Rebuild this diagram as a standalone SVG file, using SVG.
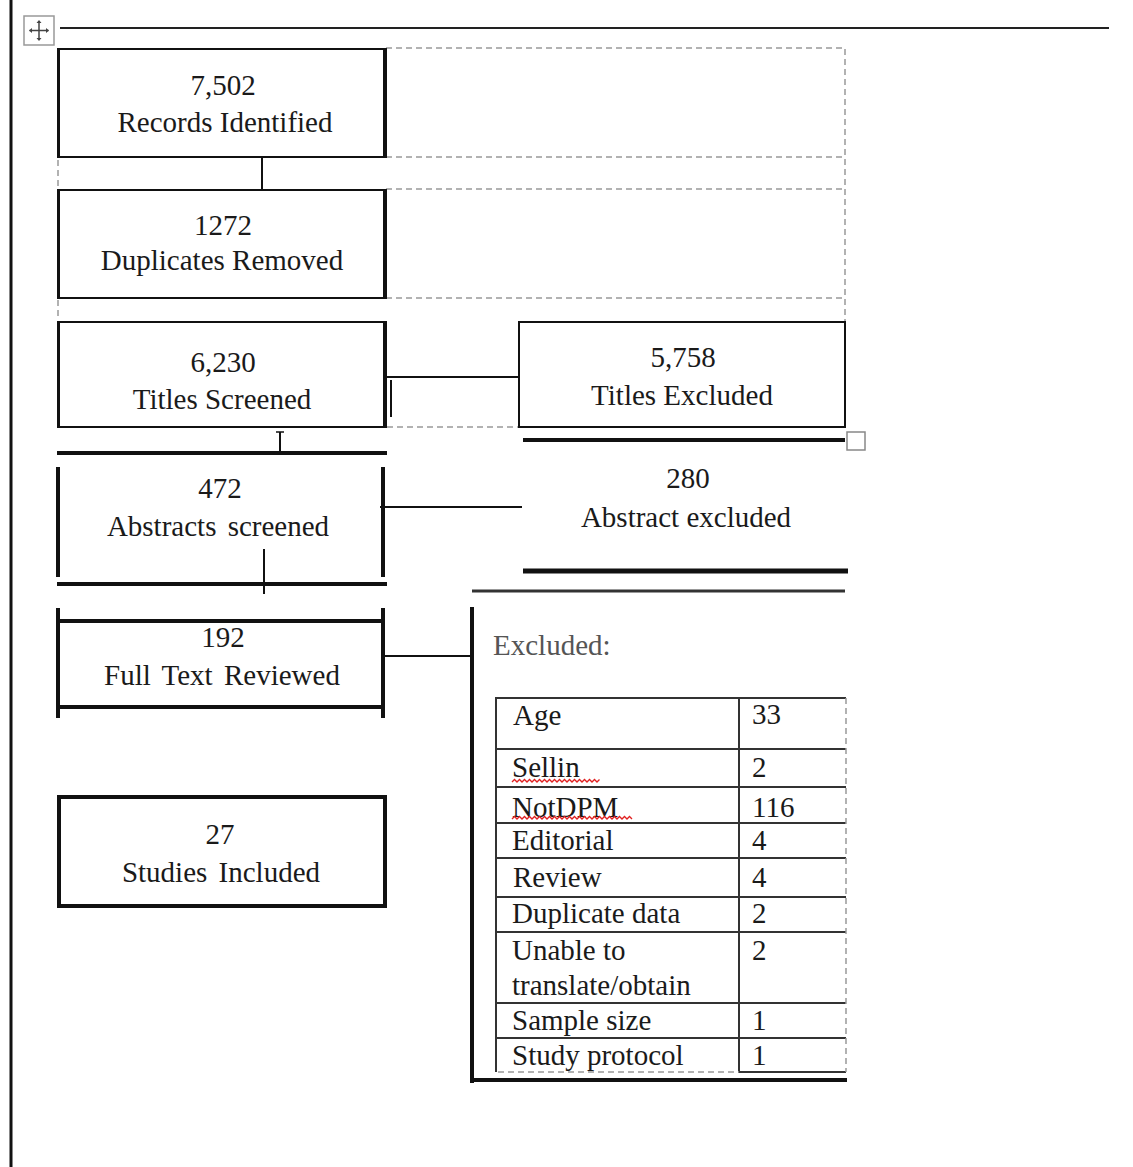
<svg xmlns="http://www.w3.org/2000/svg" width="1133" height="1167" viewBox="0 0 1133 1167">
<style>
text{font-family:"Liberation Serif","Times New Roman",serif;font-size:29px;fill:#1a1a1a}
.c{text-anchor:middle}
.g{fill:#555}
.ln{stroke:#111;fill:none}
.dash{stroke:#999;stroke-width:1.5;stroke-dasharray:6 4;fill:none}
.wavy{stroke:#e02020;stroke-width:1.3;fill:none}
</style>
<rect width="1133" height="1167" fill="#fff"/>
<!-- page frame -->
<line x1="11" y1="0" x2="11" y2="1167" stroke="#111" stroke-width="3"/>
<line x1="60" y1="28" x2="1109" y2="28" stroke="#222" stroke-width="2"/>
<g id="move-handle">
<rect x="24" y="16" width="30" height="29" fill="#fff" stroke="#999" stroke-width="1.5"/>
<path d="M39 21v19M29.5 30.5h19" stroke="#444" stroke-width="1.5"/>
<path d="M39 20l-2.5 3h5zM39 41l-2.5-3h5zM29 30.5l3-2.5v5zM49 30.5l-3-2.5v5z" fill="#444"/>
</g>
<!-- dashed table grid -->
<g id="grid">
<path class="dash" d="M386 48H845V322M386 157H845M386 189H845M386 298H845M387 427H518M58 160V189M58 300V320"/>
</g>
<g id="connectors" class="ln">
<line x1="262" y1="157" x2="262" y2="189" stroke-width="2"/>
<line x1="386" y1="377" x2="519" y2="377" stroke-width="2"/>
<line x1="391" y1="380" x2="391" y2="417" stroke-width="2"/>
<line x1="280" y1="432" x2="280" y2="452" stroke-width="2"/>
<line x1="276" y1="432" x2="284" y2="432" stroke-width="1.5"/>
<line x1="380" y1="507" x2="522" y2="507" stroke-width="2"/>
<line x1="264" y1="549" x2="264" y2="594" stroke-width="2"/>
<line x1="383" y1="656" x2="472" y2="656" stroke-width="2"/>
</g>
<g id="n-records">
<rect x="58" y="49" width="327" height="108" fill="none" stroke="#111" stroke-width="2"/>
<line x1="58.5" y1="48" x2="58.5" y2="158" stroke="#111" stroke-width="3"/>
<line x1="385" y1="48" x2="385" y2="158" stroke="#111" stroke-width="4"/>
<text class="c" x="223" y="95">7,502</text>
<text class="c" x="225" y="132">Records Identified</text>
</g>
<g id="n-duplicates">
<rect x="58" y="190" width="327" height="108" fill="none" stroke="#111" stroke-width="2"/>
<line x1="58.5" y1="189" x2="58.5" y2="299" stroke="#111" stroke-width="3"/>
<line x1="385" y1="189" x2="385" y2="299" stroke="#111" stroke-width="4"/>
<text class="c" x="223" y="235">1272</text>
<text class="c" x="222" y="270">Duplicates Removed</text>
</g>
<g id="n-titles-screened">
<rect x="58" y="322" width="327" height="105" fill="none" stroke="#111" stroke-width="2"/>
<line x1="58.5" y1="321" x2="58.5" y2="428" stroke="#111" stroke-width="3"/>
<line x1="385" y1="321" x2="385" y2="428" stroke="#111" stroke-width="4"/>
<text class="c" x="223" y="372">6,230</text>
<text class="c" x="222" y="409">Titles Screened</text>
</g>
<g id="n-titles-excluded">
<rect x="519" y="322" width="326" height="105" fill="none" stroke="#111" stroke-width="2"/>
<text class="c" x="683" y="367">5,758</text>
<text class="c" x="682" y="405">Titles Excluded</text>
</g>
<g id="n-abstract-excluded">
<line x1="523" y1="440" x2="845" y2="440" stroke="#111" stroke-width="4"/>
<rect x="847" y="432" width="18" height="18" fill="#fff" stroke="#888" stroke-width="1.5"/>
<text class="c" x="688" y="488">280</text>
<text class="c" x="686" y="527">Abstract excluded</text>
<line x1="523" y1="571" x2="848" y2="571" stroke="#111" stroke-width="5"/>
<line x1="472" y1="591" x2="845" y2="591" stroke="#333" stroke-width="3"/>
</g>
<g id="n-abstracts-screened">
<line x1="57" y1="453" x2="387" y2="453" stroke="#111" stroke-width="4"/>
<line x1="58" y1="467" x2="58" y2="577" stroke="#111" stroke-width="4"/>
<line x1="383" y1="467" x2="383" y2="577" stroke="#111" stroke-width="4"/>
<line x1="57" y1="584" x2="387" y2="584" stroke="#111" stroke-width="4"/>
<text class="c" x="220" y="498">472</text>
<text class="c" x="218" y="536" word-spacing="4">Abstracts screened</text>
</g>
<g id="n-full-text">
<line x1="58" y1="608" x2="58" y2="718" stroke="#111" stroke-width="4"/>
<line x1="383" y1="608" x2="383" y2="718" stroke="#111" stroke-width="4"/>
<line x1="58" y1="621" x2="383" y2="621" stroke="#111" stroke-width="4"/>
<line x1="58" y1="707" x2="383" y2="707" stroke="#111" stroke-width="4"/>
<text class="c" x="223" y="647">192</text>
<text class="c" x="222" y="685" word-spacing="4">Full Text Reviewed</text>
</g>
<g id="n-studies-included">
<rect x="59" y="797" width="326" height="109" fill="none" stroke="#111" stroke-width="4"/>
<text class="c" x="220" y="844">27</text>
<text class="c" x="221" y="882" word-spacing="4">Studies Included</text>
</g>
<g id="n-excluded-table">
<line x1="472" y1="607" x2="472" y2="1083" stroke="#111" stroke-width="4"/>
<line x1="470" y1="1080" x2="847" y2="1080" stroke="#111" stroke-width="4"/>
<text class="g" x="493" y="655">Excluded:</text>
<g stroke="#333" stroke-width="2" fill="none">
<path d="M496 1072V698H846M739 698V1072H846M496 749H846M496 787H846M496 823H846M496 858H846M496 897H846M496 932H846M496 1003H846M496 1038H846"/>
</g>
<path class="dash" d="M846 698V1072M498 1072H739"/>
<text x="513" y="725">Age</text><text x="752" y="724">33</text>
<text x="512" y="777">Sellin</text><text x="752" y="777">2</text>
<text x="512" y="817">NotDPM</text><text x="752" y="817">116</text>
<text x="512" y="850">Editorial</text><text x="752" y="850">4</text>
<text x="513" y="887">Review</text><text x="752" y="887">4</text>
<text x="512" y="923">Duplicate data</text><text x="752" y="923">2</text>
<text x="512" y="960">Unable to</text><text x="752" y="960">2</text>
<text x="512" y="995">translate/obtain</text>
<text x="512" y="1030">Sample size</text><text x="752" y="1030">1</text>
<text x="512" y="1065">Study protocol</text><text x="752" y="1065">1</text>
<path class="wavy" d="M512 782l2.5-2.5 2.5 2.5 2.5-2.5 2.5 2.5 2.5-2.5 2.5 2.5 2.5-2.5 2.5 2.5 2.5-2.5 2.5 2.5 2.5-2.5 2.5 2.5 2.5-2.5 2.5 2.5 2.5-2.5 2.5 2.5 2.5-2.5 2.5 2.5 2.5-2.5 2.5 2.5 2.5-2.5 2.5 2.5 2.5-2.5 2.5 2.5 2.5-2.5 2.5 2.5 2.5-2.5 2.5 2.5 2.5-2.5 2.5 2.5 2.5-2.5 2.5 2.5 2.5-2.5 2.5 2.5 2.5-2.5"/>
<path class="wavy" d="M512 819l2.5-2.5 2.5 2.5 2.5-2.5 2.5 2.5 2.5-2.5 2.5 2.5 2.5-2.5 2.5 2.5 2.5-2.5 2.5 2.5 2.5-2.5 2.5 2.5 2.5-2.5 2.5 2.5 2.5-2.5 2.5 2.5 2.5-2.5 2.5 2.5 2.5-2.5 2.5 2.5 2.5-2.5 2.5 2.5 2.5-2.5 2.5 2.5 2.5-2.5 2.5 2.5 2.5-2.5 2.5 2.5 2.5-2.5 2.5 2.5 2.5-2.5 2.5 2.5 2.5-2.5 2.5 2.5 2.5-2.5 2.5 2.5 2.5-2.5 2.5 2.5 2.5-2.5 2.5 2.5 2.5-2.5 2.5 2.5 2.5-2.5 2.5 2.5 2.5-2.5 2.5 2.5 2.5-2.5 2.5 2.5"/>
</g>
</svg>
